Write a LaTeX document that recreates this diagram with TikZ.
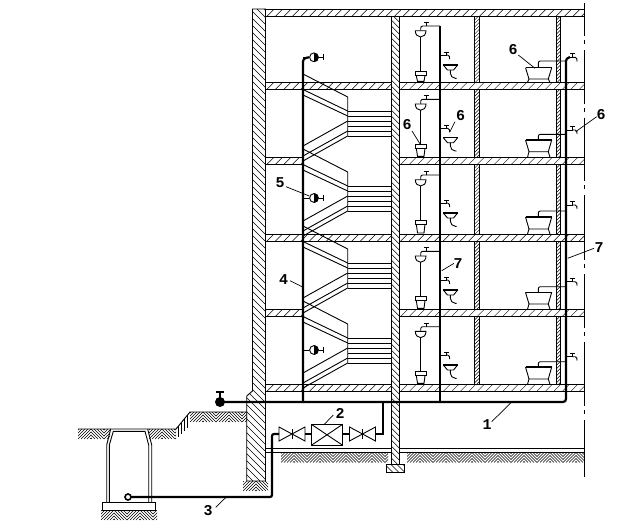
\documentclass[tikz,border=0pt]{standalone}
\usepackage{fontspec}
\setmainfont{Liberation Mono}
\tikzset{
  hatchline/.style={line width=0.5pt},
  fineline/.style={line width=0.4pt},
  thin1/.style={line width=0.9pt},
  pipe/.style={line width=2.2pt},
  labeltext/.style={font=\fontsize{15}{15}\selectfont\bfseries,inner sep=0pt},
  leader/.style={line width=0.7pt}
}
% x1 y1 x2 y2 step dir(1 = /, 0 = \)
\newcommand\hatchlines[6]{%
  \pgfmathsetmacro\hh{#4-(#2)}%
  \pgfmathsetmacro\hs{#1-\hh}%
  \pgfmathsetmacro\hn{\hs+#5}%
  \pgfmathsetmacro\he{#3}%
  \foreach \c in {\hs,\hn,...,\he}{%
    \ifnum#6=1 \draw[hatchline] (\c,#4)--(\c+\hh,#2);%
    \else \draw[hatchline] (\c,#2)--(\c+\hh,#4);\fi}%
}
\newcommand\hatchbox[6]{%
  \fill[white] (#1,#2) rectangle (#3,#4);
  \begin{scope}\clip (#1,#2) rectangle (#3,#4);\hatchlines{#1}{#2}{#3}{#4}{#5}{#6}\end{scope}
  \draw[thin1] (#1,#2) rectangle (#3,#4);
}
\newcommand\earthbox[4]{%
  \begin{scope}\clip (#1,#2) rectangle (#3,#4);
  \pgfmathtruncatemacro\en{(#3-#1)/13}
  \foreach \k in {0,...,\en}{%
    \pgfmathsetmacro\ex{#1+\k*13}
    \begin{scope}\clip (\ex,#2) rectangle (\ex+13,#4);
    \foreach \o in {-12,-9,...,15}{%
      \ifodd\k \draw[hatchline] (\ex+\o,#2)--(\ex+\o+10,#2+10);
      \else \draw[hatchline] (\ex+\o,#2+10)--(\ex+\o+10,#2);\fi}
    \end{scope}}
  \end{scope}
}
% stairs: base y of first step
\newcommand\stairs[1]{%
  \draw[thin1] (303,#1-37)--(347.7,#1-14)--(347.7,#1+25);
  \draw[thin1] (303,#1-21.5)--(347.7,#1);
  \draw[thin1] (303,#1-16)--(347.7,#1+5);
  \foreach \s in {0,5,10,15,20,25}{\draw[thin1] (347.7,#1+\s)--(391,#1+\s);}
  \draw[thin1] (347.7,#1+10)--(303,#1+35);
  \draw[thin1] (347.7,#1+20)--(303,#1+45);
  \draw[thin1] (347.7,#1+25)--(303,#1+50);
}
% wc: branch y, box top y, floor y
\newcommand\wc[3]{%
  \draw[thin1,rounded corners=2pt] (440,#1)--(420.7,#1)--(420.7,#1+4.7);
  \draw[thin1] (426,#1)--(426,#1-3.6) (423.5,#1-3.6)--(428.5,#1-3.6);
  \draw[thin1,fill=white] (415.3,#1+4.7)--(426,#1+4.7) .. controls (426,#1+13) and (415.3,#1+13) .. (415.3,#1+4.7)--cycle;
  \draw[thin1] (420.7,#1+10.7)--(420.7,#2);
  \draw[thin1,fill=white] (415.3,#2) rectangle (426,#2+4);
  \draw[thin1] (416.3,#2+4)--(417.5,#3-1)--(424,#3-1)--(425,#2+4);
}
% basin: branch y, basin top y
\newcommand\basin[2]{%
  \draw[thin1] (440,#1)--(446.7,#1) (446.7,#1)--(446.7,#1-3) (444.2,#1-3)--(449.2,#1-3);
  \draw[thin1,rounded corners=1.5pt] (446.7,#1)--(449.3,#1)--(449.6,#1+4);
  \draw[line width=1.4pt] (443.3,#2)--(457.7,#2);
  \draw[thin1] (443.3,#2)--(447.5,#2+5)--(453.5,#2+5)--(457.7,#2);
  \draw[thin1,rounded corners=2pt] (450.3,#2+5)--(450.3,#2+10)--(453.3,#2+13.3)--(456.7,#2+13.3);
}
% bath: pipe y, top y, mid y, floor y
\newcommand\bath[4]{%
  \draw[thin1,rounded corners=2pt] (566,#1)--(538.3,#1)--(538.3,#2);
  \draw[line width=1.4pt] (525.5,#2)--(551.7,#2);
  \draw[thin1] (525.5,#2)--(529,#3)--(548.3,#3)--(551.7,#2);
  \draw[thin1] (529,#3)--(527.5,#4) (548.3,#3)--(550,#4);
}
% right tap
\newcommand\rtap[1]{%
  \draw[thin1] (566,#1)--(572.5,#1) (572.5,#1)--(572.5,#1-3.3) (570,#1-3.3)--(575,#1-3.3);
  \draw[thin1,rounded corners=1.5pt] (572.5,#1)--(576.8,#1)--(577,#1+4);
}
% gate valve on riser 4
\newcommand\gvalve[1]{%
  \draw[thin1] (303,#1)--(309,#1) (319,#1)--(323.3,#1) (323.3,#1-3)--(323.3,#1+3);
  \fill[white] (314,#1) circle (4.6);
  \fill[black] (314,#1-4.8) .. controls (320.4,#1-4.8) and (320.4,#1+4.8) .. (314,#1+4.8)--cycle;
  \draw[thin1] (314,#1) circle (4.4);
}
% inline valve: centre x
\newcommand\lvalve[1]{%
  \draw[thin1] (#1-13,427)--(#1-13,441)--(#1+13,427)--(#1+13,441)--cycle;
  \draw[thin1] (#1,429)--(#1,439);
}
\begin{document}
\begin{tikzpicture}[x=1pt,y=-1pt,line width=0.9pt]
\useasboundingbox (0,0) rectangle (621,530);
\fill[white] (0,0) rectangle (621,530);

% left wall
\begin{scope}
  \clip (252.5,9)--(265.5,9)--(265.5,481)--(246.7,481)--(246.7,396)--(252.5,391)--cycle;
  \hatchlines{246}{9}{266}{481}{7}{0}
\end{scope}
\draw[thin1] (252.5,9)--(265.5,9)--(265.5,481)--(246.7,481)--(246.7,396)--(252.5,391)--cycle;
\earthbox{243}{481}{268}{491}

% roof and floor slabs
\hatchbox{265.5}{9.3}{584.3}{16.5}{8.5}{1}
\hatchbox{265.5}{82.3}{391}{89.3}{8.5}{1}
\hatchbox{265.5}{157.3}{303}{164.5}{8.5}{1}
\hatchbox{265.5}{234}{391}{241.3}{8.5}{1}
\hatchbox{265.5}{309.3}{303}{316.3}{8.5}{1}
\hatchbox{265.5}{384.3}{391}{391.3}{8.5}{1}
\foreach \a/\b in {82.3/89.3,157.3/164.5,234/241.3,309.3/316.3,384.3/391.3}{
  \hatchbox{399.3}{\a}{584.3}{\b}{8.5}{1}
}

% ground
\draw[thin1] (265.5,448)--(584.3,448) (265.5,452.5)--(584.3,452.5);
\earthbox{281}{452.5}{388}{462.5}
\earthbox{407}{452.5}{584}{462.5}

% inner bearing wall and footing
\hatchbox{391.2}{16.5}{399.3}{464}{6}{0}
\hatchbox{386.7}{464}{404.3}{472.3}{6}{0}

% partitions
\foreach \a/\b in {16.5/82.3,89.3/157.3,164.5/234,241.3/309.3,316.3/384.3}{
  \hatchbox{474.6}{\a}{479}{\b}{3.5}{1}
  \hatchbox{556.4}{\a}{560.7}{\b}{3.5}{1}
}

% stairs
\stairs{111}
\stairs{186}
\stairs{263}
\stairs{338}

% break line
\draw[thin1] (584.3,3)--(584.3,36) (584.3,40)--(584.3,44) (584.3,50)--(584.3,104)
  (584.3,108)--(584.3,112) (584.3,118)--(584.3,181) (584.3,185)--(584.3,189)
  (584.3,195)--(584.3,260) (584.3,264)--(584.3,268) (584.3,274)--(584.3,328)
  (584.3,332)--(584.3,336) (584.3,342)--(584.3,406) (584.3,410)--(584.3,414)
  (584.3,420)--(584.3,476.5);

% outside terrain
\draw[thin1] (78,429)--(176,429)--(190,412)--(247,412);
\earthbox{78}{429}{110}{439}
\earthbox{149}{429}{176}{439}
\earthbox{190}{412}{247}{422}
\foreach \tx/\ta/\tb in {178.5/426/437,181.5/422.5/434,184.5/419/431,187.5/415/428}{
  \draw[hatchline] (\tx,\ta)--(\tx,\tb);
}

% manhole
\fill[white] (111,430) rectangle (147,445);
\draw[thin1] (106.7,502)--(106.7,445)--(110.7,429);
\draw[thin1] (109.3,502)--(109.3,445)--(113.3,431.3)--(145,431.3)--(148.7,445)--(148.7,502);
\draw[thin1] (151.7,502)--(151.7,445)--(147.7,429);
\draw[thin1,fill=white] (102.3,502.3) rectangle (155.7,510);
\earthbox{101}{510}{157}{520}

% fixtures
\wc{26}{71.7}{82.3}
\wc{99.3}{144.3}{157.3}
\wc{175}{220}{234}
\wc{251.3}{296.7}{309.3}
\wc{326.7}{371.7}{384.3}
\basin{55}{65}
\basin{128.3}{137.7}
\basin{203}{213}
\basin{280}{290}
\basin{355}{365}
\bath{61}{67.7}{79}{82.3}
\bath{134.3}{140}{151.7}{157.3}
\bath{211}{217}{229}{234}
\bath{286.7}{292.3}{304}{309.3}
\bath{361.7}{367}{379}{384.3}
\rtap{130}
\rtap{205}
\rtap{281.7}
\rtap{356.7}
% top tap
\draw[thin1] (568,57.3)--(572.5,57.3) (572.5,57.3)--(572.5,53.8) (570,53.8)--(575,53.8);
\draw[thin1,rounded corners=1.5pt] (572.5,57.3)--(576.8,57.3)--(577,61.5);

% valves on riser 4
\gvalve{57.3}
\gvalve{198}
\gvalve{350}

% risers and mains
\draw[pipe,rounded corners=3pt] (303,402)--(303,58.5)--(309,57.3);
\draw[pipe] (440,402)--(440,25.5);
\draw[pipe,rounded corners=3pt] (220,402)--(566,402)--(566,58)--(570,57.3);
\draw[pipe] (383,402)--(383,434)--(375.5,434);
\draw[pipe] (349,434)--(342.7,434) (311.3,434)--(305,434);
\draw[pipe,rounded corners=2pt] (279,434)--(272,434)--(272,497)--(128,497);
\fill[black] (220,402) circle (5);
\draw[line width=1.3pt] (220,402)--(220,392) (216,392)--(224,392);
\draw[line width=1.6pt,fill=white] (128,497) circle (3);

% valves and meter
\lvalve{362.5}
\lvalve{292}
\draw[thin1,fill=white] (311.3,424.3) rectangle (342.7,445.3);
\draw[thin1] (311.3,424.3)--(342.7,445.3) (311.3,445.3)--(342.7,424.3);

% labels
\node[labeltext] (l1) at (487,424.5) {1};
\node[labeltext] (l2) at (340,413) {2};
\node[labeltext] (l3) at (208,511) {3};
\node[labeltext] (l4) at (283.5,280) {4};
\node[labeltext] (l5) at (280,183) {5};
\node[labeltext] (l6a) at (513,50) {6};
\node[labeltext] (l6b) at (407,125) {6};
\node[labeltext] (l6c) at (460.5,116) {6};
\node[labeltext] (l6d) at (601,115) {6};
\node[labeltext] (l7a) at (458,263.5) {7};
\node[labeltext] (l7b) at (599,248) {7};
\draw[leader] (491.7,421.7)--(511,402.7);
\draw[leader] (333.3,415)--(324.3,424.3);
\draw[leader] (215.7,507.3)--(226,497.3);
\draw[leader] (290,280.7)--(302,286.7);
\draw[leader] (286,186.7)--(309.3,196);
\draw[leader] (518.3,55)--(535,68.3);
\draw[leader] (412,131)--(420.7,145);
\draw[leader] (455,121.7)--(450,131.7);
\draw[leader] (596.7,116.7)--(575.7,131.7);
\draw[leader] (454,263.3)--(441.7,270.7);
\draw[leader] (594,248.3)--(567.7,258.3);
\end{tikzpicture}
\end{document}
